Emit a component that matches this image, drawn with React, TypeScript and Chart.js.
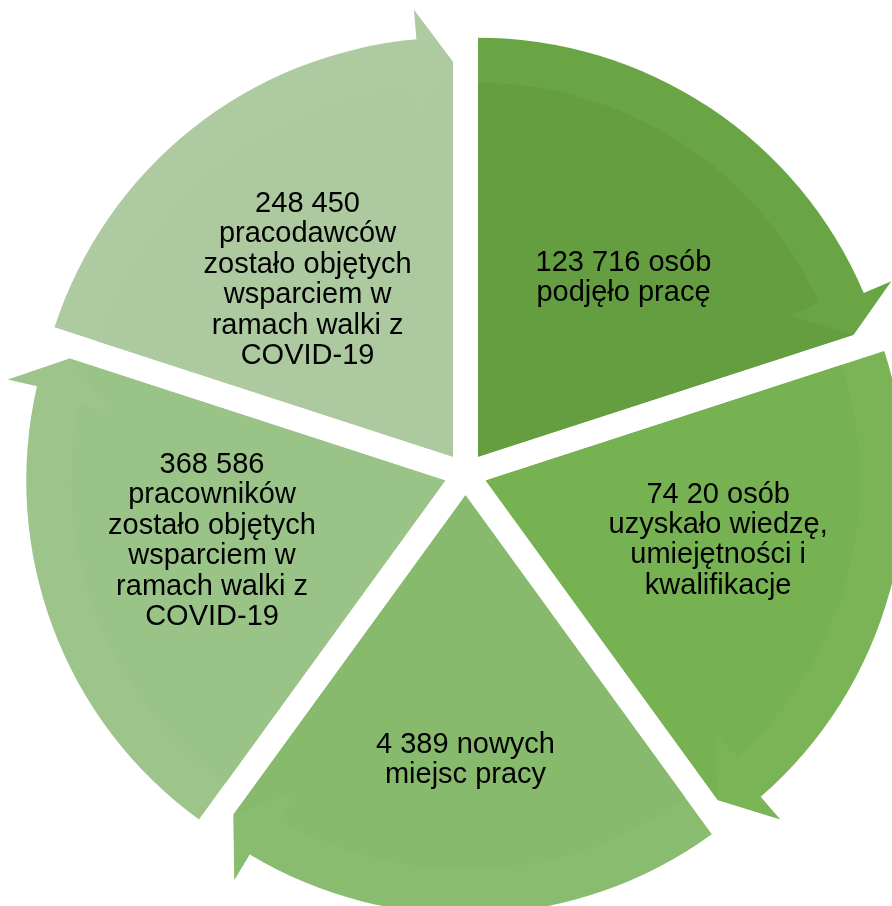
import React, { useEffect, useRef } from "react";
import { Chart, registerables } from "chart.js";

Chart.register(...registerables);

// ---- data ----
const SEGMENT_NAMES = [
  "Podjęcie pracy",
  "Wiedza i kwalifikacje",
  "Nowe miejsca pracy",
  "Pracownicy – COVID-19",
  "Pracodawcy – COVID-19",
];
const SEGMENT_SHARES = [1, 1, 1, 1, 1];
const LABEL_LINES = [
  ["123 716 osób", "podjęło pracę"],
  ["74 20 osób", "uzyskało wiedzę,", "umiejętności i", "kwalifikacje"],
  ["4 389 nowych", "miejsc pracy"],
  ["368 586", "pracowników", "zostało objętych", "wsparciem w", "ramach walki z", "COVID-19"],
  ["248 450", "pracodawców", "zostało objętych", "wsparciem w", "ramach walki z", "COVID-19"],
];
const BAND_COLORS = ["#6aa545", "#7ab456", "#8abc70", "#9dc58b", "#aecaa0"];
const INNER_COLORS = ["#659e40", "#76b152", "#87ba6c", "#9ac388", "#adc99f"];

// ---- style / layout ----
const EXPLODE = 21.3;
const HEAD_ANG = (5 * Math.PI) / 180;
const HEAD_OUT = 30;
const HEAD_IN = 24;
const BAND = 45;
const NOTCH_ANG = (6.3 * Math.PI) / 180;
const NOTCH_DEPTH = 77;
const FONT_SIZE = 29;
const LINE_GAP = 30.4;
// label anchor (mid-baseline) as fraction of outer radius, relative to pie centre
const LABEL_ANCHORS = [
  [0.377, -0.449],
  [0.603, 0.177],
  [0.0, 0.702],
  [-0.605, 0.179],
  [-0.377, -0.444],
];

const cyclePlugin = {
  id: "cycleArrows",
  beforeDatasetsDraw(chart: any) {
    const ctx = chart.ctx as CanvasRenderingContext2D;
    const meta = chart.getDatasetMeta(0);
    let pieX = 0,
      pieY = 0,
      pieR = 0;
    meta.data.forEach((el: any, i: number) => {
      const { x, y, startAngle, endAngle, outerRadius } = el.getProps(
        ["x", "y", "startAngle", "endAngle", "outerRadius"],
        true
      );
      const R = outerRadius;
      pieX = x;
      pieY = y;
      pieR = R;
      const mid = (startAngle + endAngle) / 2;
      const cx = x + EXPLODE * Math.cos(mid);
      const cy = y + EXPLODE * Math.sin(mid);
      const pt = (a: number, r: number): [number, number] => [
        cx + r * Math.cos(a),
        cy + r * Math.sin(a),
      ];
      ctx.save();
      // outer band (whole arrow shape)
      ctx.beginPath();
      ctx.moveTo(cx, cy);
      ctx.lineTo(...pt(startAngle, R));
      ctx.arc(cx, cy, R, startAngle, endAngle - HEAD_ANG);
      ctx.lineTo(...pt(endAngle - HEAD_ANG, R + HEAD_OUT));
      ctx.lineTo(...pt(endAngle, R - HEAD_IN));
      ctx.closePath();
      ctx.fillStyle = BAND_COLORS[i];
      ctx.fill();
      // inner shading
      ctx.beginPath();
      ctx.moveTo(cx, cy);
      ctx.lineTo(...pt(startAngle, R - BAND));
      ctx.arc(cx, cy, R - BAND, startAngle, endAngle - NOTCH_ANG);
      ctx.lineTo(...pt(endAngle - NOTCH_ANG, R - NOTCH_DEPTH));
      ctx.lineTo(...pt(endAngle, R - HEAD_IN));
      ctx.closePath();
      ctx.fillStyle = INNER_COLORS[i];
      ctx.fill();
      ctx.restore();
    });
    // labels
    ctx.save();
    ctx.fillStyle = "#000000";
    ctx.font = `${FONT_SIZE}px "Liberation Sans", Arial, sans-serif`;
    ctx.textAlign = "center";
    ctx.textBaseline = "alphabetic";
    LABEL_LINES.forEach((lines, i) => {
      const ax = pieX + LABEL_ANCHORS[i][0] * pieR;
      const ay = pieY + LABEL_ANCHORS[i][1] * pieR;
      const first = ay - ((lines.length - 1) * LINE_GAP) / 2;
      lines.forEach((line, j) => {
        ctx.fillText(line, ax, first + j * LINE_GAP);
      });
    });
    ctx.restore();
    return false;
  },
};

export default function App() {
  const canvasRef = useRef<HTMLCanvasElement | null>(null);

  useEffect(() => {
    if (!canvasRef.current) return;
    const chart = new Chart(canvasRef.current, {
      type: "pie",
      data: {
        labels: SEGMENT_NAMES,
        datasets: [
          {
            data: SEGMENT_SHARES,
            backgroundColor: BAND_COLORS,
            borderWidth: 0,
          },
        ],
      },
      options: {
        animation: false,
        responsive: true,
        maintainAspectRatio: false,
        events: [],
        radius: 419,
        layout: { padding: { left: 39, top: 42, right: 0, bottom: 0 } },
        plugins: {
          legend: { display: false },
          tooltip: { enabled: false },
        },
      } as any,
      plugins: [cyclePlugin],
    });
    return () => chart.destroy();
  }, []);

  return (
    <div
      style={{
        position: "fixed",
        left: 0,
        top: 0,
        width: 892,
        height: 906,
        background: "#ffffff",
      }}
    >
      <canvas ref={canvasRef} />
    </div>
  );
}
